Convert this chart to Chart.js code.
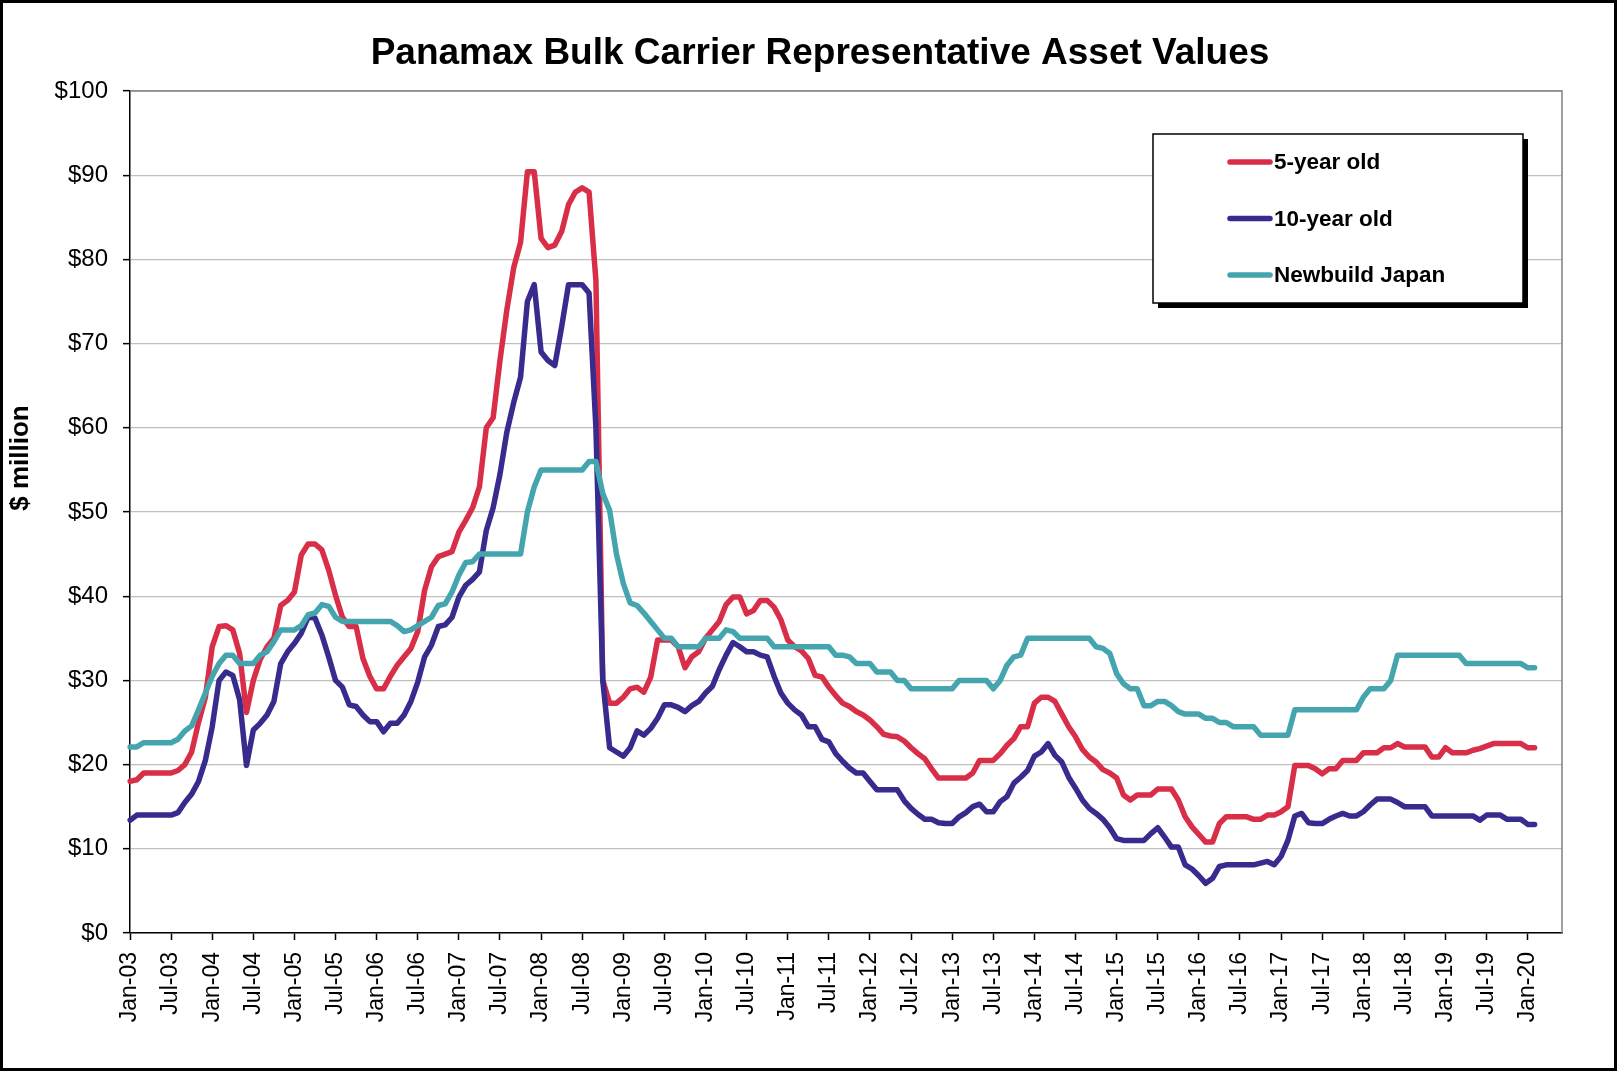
<!DOCTYPE html>
<html lang="en">
<head>
    <meta charset="UTF-8">
    <title>Panamax Bulk Carrier Representative Asset Values</title>
    <script src="https://cdn.jsdelivr.net/npm/chart.js@4.4.0/dist/chart.umd.min.js"></script>
    <style>
        html, body { margin: 0; padding: 0; background: #fff; }
        #wrap { width: 1617px; height: 1071px; }
    </style>
</head>
<body>
<div id="wrap"><canvas id="myChart" width="1617" height="1071"></canvas></div>

<script>
    // monthly series, Jan-03 .. Feb-20 (one row = one year)
    const fiveYear = [
        18.0, 18.2, 19, 19, 19, 19, 19, 19.3, 20, 21.5, 25, 28,
        34, 36.4, 36.5, 36, 33.2, 26.2, 30, 32.5, 34, 35, 38.9, 39.5,
        40.5, 44.9, 46.2, 46.2, 45.5, 43.1, 40.1, 37.5, 36.4, 36.4, 32.6, 30.5,
        29, 29, 30.5, 31.8, 32.8, 33.8, 35.8, 40.7, 43.5, 44.7, 45, 45.3,
        47.6, 49, 50.5, 53, 60, 61.2, 68, 74, 79, 82, 90.4, 90.4,
        82.5, 81.4, 81.7, 83.3, 86.5, 88, 88.5, 88, 77.5, 30, 27.3, 27.3,
        28, 29, 29.2, 28.6, 30.4, 34.8, 34.8, 34.8, 34, 31.5, 32.8, 33.4,
        35, 36, 37, 39, 39.9, 39.9, 37.9, 38.3, 39.5, 39.5, 38.7, 37.2,
        34.8, 34, 33.5, 32.6, 30.6, 30.4, 29.2, 28.2, 27.3, 26.9, 26.3, 25.9,
        25.3, 24.5, 23.6, 23.4, 23.3, 22.8, 22, 21.3, 20.7, 19.5, 18.4, 18.4,
        18.4, 18.4, 18.4, 19, 20.5, 20.5, 20.5, 21.3, 22.3, 23.1, 24.5, 24.5,
        27.3, 28, 28, 27.5, 26, 24.5, 23.3, 21.8, 20.9, 20.3, 19.4, 19,
        18.4, 16.4, 15.8, 16.4, 16.4, 16.4, 17.1, 17.1, 17.1, 15.8, 13.8, 12.6,
        11.7, 10.8, 10.8, 13, 13.8, 13.8, 13.8, 13.8, 13.5, 13.5, 14, 14,
        14.4, 15, 19.9, 19.9, 19.9, 19.5, 18.9, 19.5, 19.5, 20.5, 20.5, 20.5,
        21.4, 21.4, 21.4, 22, 22, 22.5, 22.1, 22.1, 22.1, 22.1, 20.9, 20.9,
        22, 21.4, 21.4, 21.4, 21.7, 21.9, 22.2, 22.5, 22.5, 22.5, 22.5, 22.5,
        22, 22
    ];
    const tenYear = [
        13.4, 14, 14, 14, 14, 14, 14, 14.3, 15.5, 16.5, 18, 20.5,
        24.5, 30, 31, 30.6, 27.7, 19.9, 24.1, 24.9, 25.9, 27.5, 32, 33.4,
        34.4, 35.6, 37.5, 37.4, 35.4, 32.8, 30, 29.2, 27.1, 26.9, 25.9, 25.1,
        25.1, 23.9, 24.9, 24.9, 25.9, 27.5, 29.8, 32.8, 34.2, 36.4, 36.6, 37.5,
        39.9, 41.3, 42, 42.9, 47.8, 50.5, 54.5, 59.5, 63, 66, 75, 77,
        69, 68, 67.4, 72, 77, 77, 77, 76, 60, 30, 22, 21.5,
        21, 22, 24, 23.5, 24.3, 25.5, 27.1, 27.1, 26.8, 26.3, 27, 27.5,
        28.5, 29.3, 31.3, 33, 34.5, 34, 33.4, 33.4, 33, 32.8, 30.5, 28.5,
        27.3, 26.5, 25.9, 24.5, 24.5, 23, 22.7, 21.3, 20.4, 19.6, 19, 19,
        18, 17, 17, 17, 17, 15.7, 14.8, 14.1, 13.5, 13.5, 13.1, 13,
        13, 13.8, 14.3, 15, 15.3, 14.4, 14.4, 15.6, 16.2, 17.8, 18.5, 19.3,
        21, 21.5, 22.5, 21.1, 20.3, 18.5, 17.2, 15.8, 14.8, 14.2, 13.5, 12.5,
        11.2, 11, 11, 11, 11, 11.8, 12.5, 11.4, 10.2, 10.2, 8.1, 7.6,
        6.8, 5.9, 6.5, 7.9, 8.1, 8.1, 8.1, 8.1, 8.1, 8.3, 8.5, 8.1,
        9.1, 11, 13.9, 14.2, 13.1, 13, 13, 13.5, 13.9, 14.2, 13.9, 13.9,
        14.4, 15.2, 15.9, 15.9, 15.9, 15.5, 15, 15, 15, 15, 13.9, 13.9,
        13.9, 13.9, 13.9, 13.9, 13.9, 13.4, 14, 14, 14, 13.5, 13.5, 13.5,
        12.9, 12.9
    ];
    const newbuildJapan = [
        22.1, 22.1, 22.6, 22.6, 22.6, 22.6, 22.6, 23, 24, 24.6, 26.5, 28.5,
        30.5, 32, 33, 33, 32, 32, 32, 33, 33.4, 34.6, 36, 36,
        36, 36.5, 37.8, 38, 39, 38.8, 37.5, 37, 37, 37, 37, 37,
        37, 37, 37, 36.5, 35.8, 36, 36.5, 37, 37.5, 38.9, 39.1, 40.5,
        42.5, 44, 44.1, 45, 45, 45, 45, 45, 45, 45, 50, 53,
        55, 55, 55, 55, 55, 55, 55, 56, 56, 52.2, 50.2, 45,
        41.5, 39.2, 38.9, 38, 37, 36, 35, 35, 34, 34, 34, 34,
        35, 35, 35, 36, 35.8, 35, 35, 35, 35, 35, 34, 34,
        34, 34, 34, 34, 34, 34, 34, 33, 33, 32.8, 32, 32,
        32, 31, 31, 31, 30, 30, 29, 29, 29, 29, 29, 29,
        29, 30, 30, 30, 30, 30, 29, 30, 31.8, 32.8, 33, 35,
        35, 35, 35, 35, 35, 35, 35, 35, 35, 34, 33.8, 33.2,
        30.8, 29.6, 29, 29, 27, 27, 27.5, 27.5, 27, 26.3, 26, 26,
        26, 25.5, 25.5, 25, 25, 24.5, 24.5, 24.5, 24.5, 23.5, 23.5, 23.5,
        23.5, 23.5, 26.5, 26.5, 26.5, 26.5, 26.5, 26.5, 26.5, 26.5, 26.5, 26.5,
        28, 29, 29, 29, 30, 33, 33, 33, 33, 33, 33, 33,
        33, 33, 33, 32, 32, 32, 32, 32, 32, 32, 32, 32,
        31.5, 31.5
    ];
    const seriesNames = ['5-year old', '10-year old', 'Newbuild Japan'];
    const seriesColors = ['#D82E48', '#372B8E', '#45A5AF'];
    const yTicks = [0, 10, 20, 30, 40, 50, 60, 70, 80, 90, 100];

    // month categories Jan-03 .. Jun-20 (axis runs a few months past the last point)
    const monthNames = ['Jan', 'Feb', 'Mar', 'Apr', 'May', 'Jun', 'Jul', 'Aug', 'Sep', 'Oct', 'Nov', 'Dec'];
    const months = [];
    for (let i = 0; i < 210; i++) {
        const yr = 3 + Math.floor(i / 12);
        months.push(monthNames[i % 12] + '-' + String(yr).padStart(2, '0'));
    }

    const FONT = '"Liberation Sans", Arial, sans-serif';
    Chart.defaults.font.family = FONT;
    Chart.defaults.color = '#000';

    // outer black frame
    const framePlugin = {
        id: 'frame',
        afterDraw(chart) {
            const c = chart.ctx;
            c.save();
            c.strokeStyle = '#000';
            c.lineWidth = 3;
            c.strokeRect(1.5, 1.5, chart.width - 3, chart.height - 3);
            c.restore();
        }
    };

    // gray top/right edge of the plot area
    const plotBorder = {
        id: 'plotBorder',
        beforeDatasetsDraw(chart) {
            const a = chart.chartArea, c = chart.ctx;
            c.save();
            c.strokeStyle = '#808080';
            c.lineWidth = 1.5;
            c.beginPath();
            c.moveTo(a.left, a.top);
            c.lineTo(a.right, a.top);
            c.lineTo(a.right, a.bottom);
            c.stroke();
            c.restore();
        }
    };

    // chart title and y axis title (placed like the original, not centred on the plot)
    const titles = {
        id: 'titles',
        afterDraw(chart) {
            const c = chart.ctx;
            c.save();
            c.fillStyle = '#000';
            c.textAlign = 'center';
            c.font = 'bold 37px ' + FONT;
            c.textBaseline = 'alphabetic';
            c.fillText('Panamax Bulk Carrier Representative Asset Values', 820, 64);
            c.translate(21, 458);
            c.rotate(-Math.PI / 2);
            c.font = 'bold 26px ' + FONT;
            c.textBaseline = 'middle';
            c.fillText('$ million', 0, 0);
            c.restore();
        }
    };

    // boxed legend with drop shadow
    const boxLegend = {
        id: 'boxLegend',
        afterDraw(chart) {
            const c = chart.ctx;
            const x = 1153, y = 134, w = 370, h = 169;
            c.save();
            c.fillStyle = '#000';
            c.fillRect(x + 5, y + 5, w, h);
            c.fillStyle = '#fff';
            c.fillRect(x, y, w, h);
            c.strokeStyle = '#000';
            c.lineWidth = 1.5;
            c.strokeRect(x, y, w, h);
            c.font = 'bold 22.5px ' + FONT;
            c.textBaseline = 'middle';
            c.lineCap = 'round';
            chart.data.datasets.forEach((ds, i) => {
                const ly = 162 + i * 56.5;
                c.strokeStyle = ds.borderColor;
                c.lineWidth = 5.5;
                c.beginPath();
                c.moveTo(1230, ly);
                c.lineTo(1270, ly);
                c.stroke();
                c.fillStyle = '#000';
                c.fillText(ds.label, 1274, ly + 1);
            });
            c.restore();
        }
    };

    const ctx = document.getElementById('myChart').getContext('2d');
    const myChart = new Chart(ctx, {
        type: 'line',
        data: {
            labels: months,
            datasets: [fiveYear, tenYear, newbuildJapan].map((vals, i) => ({
                label: seriesNames[i],
                data: vals,
                borderColor: seriesColors[i],
                backgroundColor: seriesColors[i],
                borderWidth: 5.5,
                pointRadius: 0,
                tension: 0,
                borderJoinStyle: 'round',
                borderCapStyle: 'round',
                order: 3 - i,
                fill: false
            }))
        },
        options: {
            responsive: false,
            animation: false,
            devicePixelRatio: 1,
            layout: { padding: { left: 0, right: 55, top: 91, bottom: 0 } },
            plugins: {
                legend: { display: false },
                tooltip: { enabled: false },
                title: { display: false }
            },
            scales: {
                x: {
                    type: 'category',
                    offset: false,
                    grid: { drawOnChartArea: false, drawTicks: true, tickLength: 7, tickColor: '#000', tickWidth: 1.5 },
                    border: { color: '#000', width: 1.5 },
                    ticks: {
                        autoSkip: false,
                        minRotation: 90,
                        maxRotation: 90,
                        padding: 12,
                        font: { size: 23 },
                        color: '#000',
                        callback: function (val, index) {
                            return (index % 6 === 0 && index <= 204) ? this.getLabelForValue(val) : null;
                        }
                    },
                    afterFit: function (scale) { scale.height = 138; }
                },
                y: {
                    min: 0,
                    max: 100,
                    afterBuildTicks: function (scale) { scale.ticks = yTicks.map(v => ({ value: v })); },
                    grid: { color: '#BFBFBF', lineWidth: 1.3, tickLength: 7, tickColor: '#000', tickWidth: 1.5 },
                    border: { color: '#000', width: 1.5 },
                    ticks: {
                        padding: 15,
                        font: { size: 24 },
                        color: '#000',
                        callback: v => '$' + v
                    },
                    afterFit: function (scale) { scale.width = 130; }
                }
            }
        },
        plugins: [plotBorder, titles, boxLegend, framePlugin]
    });
</script>
</body>
</html>
